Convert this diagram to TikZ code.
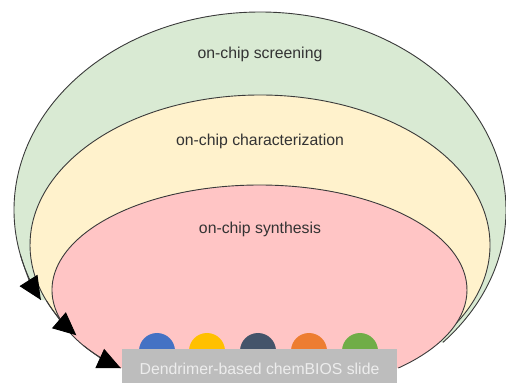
\documentclass[tikz,border=0pt]{standalone}
\usepackage{fontspec}
\setmainfont{Liberation Sans}
\usetikzlibrary{arrows.meta}

\definecolor{screenfill}{HTML}{D9EAD3}
\definecolor{charfill}{HTML}{FFF2CC}
\definecolor{synthfill}{HTML}{FFC5C5}
\definecolor{edgegray}{HTML}{3A3A3A}
\definecolor{labelgray}{HTML}{333333}
\definecolor{slidegray}{HTML}{BDBDBD}
\definecolor{slidetext}{HTML}{EDEDED}
\definecolor{dotblue}{HTML}{4472C4}
\definecolor{dotyellow}{HTML}{FFC000}
\definecolor{dotnavy}{HTML}{44546A}
\definecolor{dotorange}{HTML}{ED7D31}
\definecolor{dotgreen}{HTML}{70AD47}

\tikzset{
  stageedge/.style={draw=edgegray, line width=0.9pt},
  stagetip/.style={draw=edgegray, line width=0.9pt,
    -{Triangle[length=23pt, width=21pt, black]}},
  stagelabel/.style={anchor=base, inner sep=0pt, text=labelgray,
    font=\fontsize{15.8pt}{18pt}\selectfont},
  dot/.style={circle, inner sep=0pt, minimum size=36pt},
  slidebox/.style={rectangle, inner sep=0pt, fill=slidegray,
    minimum width=275pt, minimum height=34pt},
  slidelabel/.style={anchor=base, inner sep=0pt, text=slidetext,
    font=\fontsize{15.8pt}{18pt}\selectfont},
}

\begin{document}
\begin{tikzpicture}[x=1pt, y=1pt]
  \useasboundingbox (0,0) rectangle (506,383);

  % centres of the nested stage regions
  \coordinate (cs) at (260,173);
  \coordinate (cc) at (260,138);
  \coordinate (cy) at (259.5,93);

  % screening region
  \fill[screenfill] (cs) ++(-42:246pt and 198pt)
    arc[start angle=-42, end angle=207, x radius=246pt, y radius=198pt] -- cycle;
  \draw[stageedge] (cs) ++(-42:246pt and 198pt)
    arc[start angle=-42, end angle=207, x radius=246pt, y radius=198pt];

  % characterization region
  \fill[charfill] (cc) ++(-36:230pt and 150pt)
    arc[start angle=-36, end angle=217, x radius=230pt, y radius=150pt] -- cycle;
  \draw[stageedge] (cc) ++(-36:230pt and 150pt)
    arc[start angle=-36, end angle=217, x radius=230pt, y radius=150pt];

  % synthesis region
  \fill[synthfill] (cy) ++(-48:207.5pt and 105pt)
    arc[start angle=-48, end angle=228, x radius=207.5pt, y radius=105pt] -- cycle;
  \draw[stageedge] (cy) ++(-48:207.5pt and 105pt)
    arc[start angle=-48, end angle=228, x radius=207.5pt, y radius=105pt];

  % arrowheads at the open ends, kept on top
  \draw[stagetip] (cs) ++(193:246pt and 198pt)
    arc[start angle=193, end angle=207, x radius=246pt, y radius=198pt];
  \draw[stagetip] (cc) ++(202:230pt and 150pt)
    arc[start angle=202, end angle=217, x radius=230pt, y radius=150pt];
  \draw[stagetip] (cy) ++(212:207.5pt and 105pt)
    arc[start angle=212, end angle=228, x radius=207.5pt, y radius=105pt];

  % stage labels
  \node[stagelabel] (screening) at (260,324.5) {on-chip screening};
  \node[stagelabel] (characterization) at (260,237) {on-chip characterization};
  \node[stagelabel] (synthesis) at (260,149) {on-chip synthesis};

  % dendrimer spots on the slide
  \node[dot, fill=dotblue]   (d1) at (157,32) {};
  \node[dot, fill=dotyellow] (d2) at (207,32) {};
  \node[dot, fill=dotnavy]   (d3) at (258,32) {};
  \node[dot, fill=dotorange] (d4) at (309,32) {};
  \node[dot, fill=dotgreen]  (d5) at (360,32) {};

  % slide
  \node[slidebox] (slide) at (259.5,17) {};
  \node[slidelabel] (slidename) at (259.5,9) {Dendrimer-based chemBIOS slide};
\end{tikzpicture}
\end{document}
